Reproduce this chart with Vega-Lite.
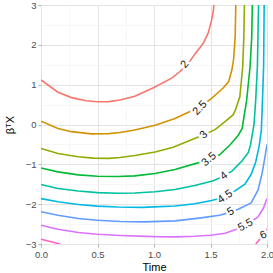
{
  "$schema": "https://vega.github.io/schema/vega-lite/v6.json",
  "width": 226,
  "height": 239,
  "autosize": {"type": "none"},
  "padding": {"left": 41, "top": 5, "right": 6, "bottom": 29},
  "background": "white",
  "config": {
    "view": {"stroke": "#BDBDBD", "strokeWidth": 1},
    "font": "Liberation Sans",
    "axis": {
      "domain": false,
      "tickColor": "#B3B3B3",
      "tickSize": 3,
      "labelColor": "#4D4D4D",
      "labelFontSize": 9.5,
      "labelPadding": 2,
      "labelFlush": false,
      "labelOverlap": false,
      "titleFontSize": 11,
      "titleFontWeight": "normal",
      "titleColor": "#000000"
    }
  },
  "datasets": {
    "contours": [
      {"lv": "2", "seg": "2", "t": 0, "b": 1.12},
      {"lv": "2", "seg": "2", "t": 0.15, "b": 0.81},
      {"lv": "2", "seg": "2", "t": 0.27, "b": 0.675},
      {"lv": "2", "seg": "2", "t": 0.4, "b": 0.595},
      {"lv": "2", "seg": "2", "t": 0.5, "b": 0.57},
      {"lv": "2", "seg": "2", "t": 0.6, "b": 0.575},
      {"lv": "2", "seg": "2", "t": 0.7, "b": 0.615},
      {"lv": "2", "seg": "2", "t": 0.83, "b": 0.71},
      {"lv": "2", "seg": "2", "t": 1.0, "b": 0.93},
      {"lv": "2", "seg": "2", "t": 1.16, "b": 1.17},
      {"lv": "2", "seg": "2", "t": 1.23, "b": 1.33},
      {"lv": "2", "seg": "2", "t": 1.3, "b": 1.52},
      {"lv": "2", "seg": "2", "t": 1.36, "b": 1.76},
      {"lv": "2", "seg": "2", "t": 1.436, "b": 2.04},
      {"lv": "2", "seg": "2", "t": 1.48, "b": 2.3},
      {"lv": "2", "seg": "2", "t": 1.51, "b": 2.62},
      {"lv": "2", "seg": "2", "t": 1.525, "b": 2.85},
      {"lv": "2", "seg": "2", "t": 1.53, "b": 3.0},

      {"lv": "2.5", "seg": "2.5", "t": 0, "b": 0.085},
      {"lv": "2.5", "seg": "2.5", "t": 0.15, "b": -0.1},
      {"lv": "2.5", "seg": "2.5", "t": 0.27, "b": -0.18},
      {"lv": "2.5", "seg": "2.5", "t": 0.445, "b": -0.235},
      {"lv": "2.5", "seg": "2.5", "t": 0.6, "b": -0.23},
      {"lv": "2.5", "seg": "2.5", "t": 0.7, "b": -0.2},
      {"lv": "2.5", "seg": "2.5", "t": 0.83, "b": -0.14},
      {"lv": "2.5", "seg": "2.5", "t": 1.01, "b": -0.02},
      {"lv": "2.5", "seg": "2.5", "t": 1.186, "b": 0.15},
      {"lv": "2.5", "seg": "2.5", "t": 1.3, "b": 0.3},
      {"lv": "2.5", "seg": "2.5", "t": 1.41, "b": 0.45},
      {"lv": "2.5", "seg": "2.5", "t": 1.51, "b": 0.655},
      {"lv": "2.5", "seg": "2.5", "t": 1.61, "b": 0.91},
      {"lv": "2.5", "seg": "2.5", "t": 1.66, "b": 1.07},
      {"lv": "2.5", "seg": "2.5", "t": 1.69, "b": 1.38},
      {"lv": "2.5", "seg": "2.5", "t": 1.705, "b": 1.65},
      {"lv": "2.5", "seg": "2.5", "t": 1.718, "b": 2.2},
      {"lv": "2.5", "seg": "2.5", "t": 1.724, "b": 3.0},

      {"lv": "3", "seg": "3", "t": 0, "b": -0.6},
      {"lv": "3", "seg": "3", "t": 0.15, "b": -0.73},
      {"lv": "3", "seg": "3", "t": 0.33, "b": -0.81},
      {"lv": "3", "seg": "3", "t": 0.46, "b": -0.845},
      {"lv": "3", "seg": "3", "t": 0.6, "b": -0.85},
      {"lv": "3", "seg": "3", "t": 0.7, "b": -0.83},
      {"lv": "3", "seg": "3", "t": 0.83, "b": -0.78},
      {"lv": "3", "seg": "3", "t": 1.01, "b": -0.69},
      {"lv": "3", "seg": "3", "t": 1.17, "b": -0.57},
      {"lv": "3", "seg": "3", "t": 1.3, "b": -0.42},
      {"lv": "3", "seg": "3", "t": 1.44, "b": -0.26},
      {"lv": "3", "seg": "3", "t": 1.54, "b": -0.13},
      {"lv": "3", "seg": "3", "t": 1.61, "b": 0.03},
      {"lv": "3", "seg": "3", "t": 1.7, "b": 0.24},
      {"lv": "3", "seg": "3", "t": 1.72, "b": 0.36},
      {"lv": "3", "seg": "3", "t": 1.76, "b": 0.7},
      {"lv": "3", "seg": "3", "t": 1.785, "b": 1.45},
      {"lv": "3", "seg": "3", "t": 1.795, "b": 2.2},
      {"lv": "3", "seg": "3", "t": 1.8, "b": 3.0},

      {"lv": "3.5", "seg": "3.5", "t": 0, "b": -1.09},
      {"lv": "3.5", "seg": "3.5", "t": 0.15, "b": -1.19},
      {"lv": "3.5", "seg": "3.5", "t": 0.33, "b": -1.265},
      {"lv": "3.5", "seg": "3.5", "t": 0.5, "b": -1.3},
      {"lv": "3.5", "seg": "3.5", "t": 0.68, "b": -1.305},
      {"lv": "3.5", "seg": "3.5", "t": 0.83, "b": -1.29},
      {"lv": "3.5", "seg": "3.5", "t": 1.01, "b": -1.23},
      {"lv": "3.5", "seg": "3.5", "t": 1.186, "b": -1.13},
      {"lv": "3.5", "seg": "3.5", "t": 1.38, "b": -0.97},
      {"lv": "3.5", "seg": "3.5", "t": 1.49, "b": -0.87},
      {"lv": "3.5", "seg": "3.5", "t": 1.58, "b": -0.76},
      {"lv": "3.5", "seg": "3.5", "t": 1.67, "b": -0.52},
      {"lv": "3.5", "seg": "3.5", "t": 1.746, "b": -0.27},
      {"lv": "3.5", "seg": "3.5", "t": 1.78, "b": -0.1},
      {"lv": "3.5", "seg": "3.5", "t": 1.82, "b": 0.61},
      {"lv": "3.5", "seg": "3.5", "t": 1.85, "b": 1.45},
      {"lv": "3.5", "seg": "3.5", "t": 1.865, "b": 2.2},
      {"lv": "3.5", "seg": "3.5", "t": 1.87, "b": 3.0},

      {"lv": "4", "seg": "4", "t": 0, "b": -1.505},
      {"lv": "4", "seg": "4", "t": 0.15, "b": -1.605},
      {"lv": "4", "seg": "4", "t": 0.33, "b": -1.67},
      {"lv": "4", "seg": "4", "t": 0.5, "b": -1.71},
      {"lv": "4", "seg": "4", "t": 0.68, "b": -1.725},
      {"lv": "4", "seg": "4", "t": 0.83, "b": -1.72},
      {"lv": "4", "seg": "4", "t": 1.01, "b": -1.69},
      {"lv": "4", "seg": "4", "t": 1.186, "b": -1.63},
      {"lv": "4", "seg": "4", "t": 1.36, "b": -1.53},
      {"lv": "4", "seg": "4", "t": 1.525, "b": -1.41},
      {"lv": "4", "seg": "4", "t": 1.62, "b": -1.29},
      {"lv": "4", "seg": "4", "t": 1.69, "b": -1.17},
      {"lv": "4", "seg": "4", "t": 1.78, "b": -0.91},
      {"lv": "4", "seg": "4", "t": 1.835, "b": -0.7},
      {"lv": "4", "seg": "4", "t": 1.855, "b": -0.5},
      {"lv": "4", "seg": "4", "t": 1.885, "b": 0.0},
      {"lv": "4", "seg": "4", "t": 1.9, "b": 0.61},
      {"lv": "4", "seg": "4", "t": 1.915, "b": 1.45},
      {"lv": "4", "seg": "4", "t": 1.92, "b": 2.2},
      {"lv": "4", "seg": "4", "t": 1.925, "b": 3.0},

      {"lv": "4.5", "seg": "4.5", "t": 0, "b": -1.86},
      {"lv": "4.5", "seg": "4.5", "t": 0.15, "b": -1.94},
      {"lv": "4.5", "seg": "4.5", "t": 0.33, "b": -2.01},
      {"lv": "4.5", "seg": "4.5", "t": 0.5, "b": -2.05},
      {"lv": "4.5", "seg": "4.5", "t": 0.68, "b": -2.07},
      {"lv": "4.5", "seg": "4.5", "t": 0.9, "b": -2.08},
      {"lv": "4.5", "seg": "4.5", "t": 1.186, "b": -2.045},
      {"lv": "4.5", "seg": "4.5", "t": 1.36, "b": -1.99},
      {"lv": "4.5", "seg": "4.5", "t": 1.51, "b": -1.91},
      {"lv": "4.5", "seg": "4.5", "t": 1.63, "b": -1.82},
      {"lv": "4.5", "seg": "4.5", "t": 1.71, "b": -1.68},
      {"lv": "4.5", "seg": "4.5", "t": 1.805, "b": -1.5},
      {"lv": "4.5", "seg": "4.5", "t": 1.86, "b": -1.25},
      {"lv": "4.5", "seg": "4.5", "t": 1.9, "b": -0.94},
      {"lv": "4.5", "seg": "4.5", "t": 1.93, "b": -0.55},
      {"lv": "4.5", "seg": "4.5", "t": 1.95, "b": -0.14},
      {"lv": "4.5", "seg": "4.5", "t": 1.96, "b": 0.61},
      {"lv": "4.5", "seg": "4.5", "t": 1.97, "b": 1.45},
      {"lv": "4.5", "seg": "4.5", "t": 1.975, "b": 3.0},

      {"lv": "5", "seg": "5", "t": 0, "b": -2.19},
      {"lv": "5", "seg": "5", "t": 0.15, "b": -2.28},
      {"lv": "5", "seg": "5", "t": 0.33, "b": -2.36},
      {"lv": "5", "seg": "5", "t": 0.5, "b": -2.405},
      {"lv": "5", "seg": "5", "t": 0.7, "b": -2.435},
      {"lv": "5", "seg": "5", "t": 0.92, "b": -2.445},
      {"lv": "5", "seg": "5", "t": 1.186, "b": -2.42},
      {"lv": "5", "seg": "5", "t": 1.4, "b": -2.35},
      {"lv": "5", "seg": "5", "t": 1.58, "b": -2.28},
      {"lv": "5", "seg": "5", "t": 1.68, "b": -2.2},
      {"lv": "5", "seg": "5", "t": 1.75, "b": -2.12},
      {"lv": "5", "seg": "5", "t": 1.86, "b": -1.97},
      {"lv": "5", "seg": "5", "t": 1.92, "b": -1.65},
      {"lv": "5", "seg": "5", "t": 1.955, "b": -1.25},
      {"lv": "5", "seg": "5", "t": 1.98, "b": -0.85},
      {"lv": "5", "seg": "5", "t": 2.0, "b": -0.5},

      {"lv": "5.5", "seg": "5.5", "t": 0, "b": -2.53},
      {"lv": "5.5", "seg": "5.5", "t": 0.15, "b": -2.63},
      {"lv": "5.5", "seg": "5.5", "t": 0.33, "b": -2.71},
      {"lv": "5.5", "seg": "5.5", "t": 0.5, "b": -2.755},
      {"lv": "5.5", "seg": "5.5", "t": 0.7, "b": -2.785},
      {"lv": "5.5", "seg": "5.5", "t": 1.0, "b": -2.815},
      {"lv": "5.5", "seg": "5.5", "t": 1.2, "b": -2.82},
      {"lv": "5.5", "seg": "5.5", "t": 1.36, "b": -2.805},
      {"lv": "5.5", "seg": "5.5", "t": 1.5, "b": -2.78},
      {"lv": "5.5", "seg": "5.5", "t": 1.63, "b": -2.73},
      {"lv": "5.5", "seg": "5.5", "t": 1.73, "b": -2.63},
      {"lv": "5.5", "seg": "5.5", "t": 1.81, "b": -2.53},
      {"lv": "5.5", "seg": "5.5", "t": 1.92, "b": -2.32},
      {"lv": "5.5", "seg": "5.5", "t": 1.967, "b": -2.11},
      {"lv": "5.5", "seg": "5.5", "t": 2.0, "b": -1.86},

      {"lv": "6", "seg": "6a", "t": 0, "b": -2.88},
      {"lv": "6", "seg": "6a", "t": 0.17, "b": -3.0},
      {"lv": "6", "seg": "6b", "t": 1.9, "b": -3.0},
      {"lv": "6", "seg": "6b", "t": 1.93, "b": -2.9},
      {"lv": "6", "seg": "6b", "t": 1.97, "b": -2.78},
      {"lv": "6", "seg": "6b", "t": 2.0, "b": -2.62}
    ],
    "labels": [
      {"lv": "2", "t": 1.274, "b": 1.51},
      {"lv": "2.5", "t": 1.407, "b": 0.41},
      {"lv": "3", "t": 1.442, "b": -0.26},
      {"lv": "3.5", "t": 1.487, "b": -0.88},
      {"lv": "4", "t": 1.62, "b": -1.29},
      {"lv": "4.5", "t": 1.63, "b": -1.82},
      {"lv": "5", "t": 1.68, "b": -2.19},
      {"lv": "5.5", "t": 1.81, "b": -2.53},
      {"lv": "6", "t": 1.97, "b": -2.78}
    ]
  },
  "encoding": {
    "x": {
      "field": "t",
      "type": "quantitative",
      "title": "Time",
      "scale": {"domain": [0, 2], "nice": false, "zero": false},
      "axis": {
        "values": [0, 0.25, 0.5, 0.75, 1, 1.25, 1.5, 1.75, 2],
        "labelExpr": "datum.value % 0.5 === 0 ? format(datum.value, '.1f') : ''",
        "gridColor": {"condition": {"test": "datum.value % 0.5 !== 0", "value": "#F2F2F2"}, "value": "#E3E3E3"},
        "gridWidth": {"condition": {"test": "datum.value % 0.5 !== 0", "value": 0.6}, "value": 1},
        "tickOpacity": {"condition": {"test": "datum.value % 0.5 !== 0", "value": 0}, "value": 1},
        "titlePadding": 3
      }
    },
    "y": {
      "field": "b",
      "type": "quantitative",
      "title": "βᵀX",
      "scale": {"domain": [-3, 3], "nice": false, "zero": false},
      "axis": {
        "values": [-3, -2.5, -2, -1.5, -1, -0.5, 0, 0.5, 1, 1.5, 2, 2.5, 3],
        "labelExpr": "datum.value % 1 === 0 ? format(datum.value, 'd') : ''",
        "gridColor": {"condition": {"test": "datum.value % 1 !== 0", "value": "#F2F2F2"}, "value": "#E3E3E3"},
        "gridWidth": {"condition": {"test": "datum.value % 1 !== 0", "value": 0.6}, "value": 1},
        "tickOpacity": {"condition": {"test": "datum.value % 1 !== 0", "value": 0}, "value": 1},
        "titlePadding": 10
      }
    }
  },
  "layer": [
    {
      "data": {"name": "contours"},
      "mark": {"type": "line", "strokeWidth": 1.6, "clip": true},
      "encoding": {
        "color": {
          "field": "lv",
          "type": "nominal",
          "scale": {
            "domain": ["2", "2.5", "3", "3.5", "4", "4.5", "5", "5.5", "6"],
            "range": ["#F8766D", "#D39200", "#93AA00", "#00BA38", "#00C19F", "#00B9E3", "#619CFF", "#DB72FB", "#FF61C3"]
          },
          "legend": null
        },
        "detail": {"field": "seg", "type": "nominal"}
      }
    },
    {
      "data": {"name": "labels"},
      "mark": {"type": "text", "fontSize": 11, "fill": "white", "stroke": "white", "strokeWidth": 5, "strokeJoin": "round"},
      "encoding": {
        "text": {"field": "lv", "type": "nominal"},
        "angle": {
          "field": "lv",
          "type": "nominal",
          "scale": {
            "domain": ["2", "2.5", "3", "3.5", "4", "4.5", "5", "5.5", "6"],
            "range": [310, 335, 337, 340, 335, 338, 330, 320, 305]
          }
        }
      }
    },
    {
      "data": {"name": "labels"},
      "mark": {"type": "text", "fontSize": 11, "fill": "#1A1A1A"},
      "encoding": {
        "text": {"field": "lv", "type": "nominal"},
        "angle": {
          "field": "lv",
          "type": "nominal",
          "scale": {
            "domain": ["2", "2.5", "3", "3.5", "4", "4.5", "5", "5.5", "6"],
            "range": [310, 335, 337, 340, 335, 338, 330, 320, 305]
          }
        }
      }
    }
  ]
}
